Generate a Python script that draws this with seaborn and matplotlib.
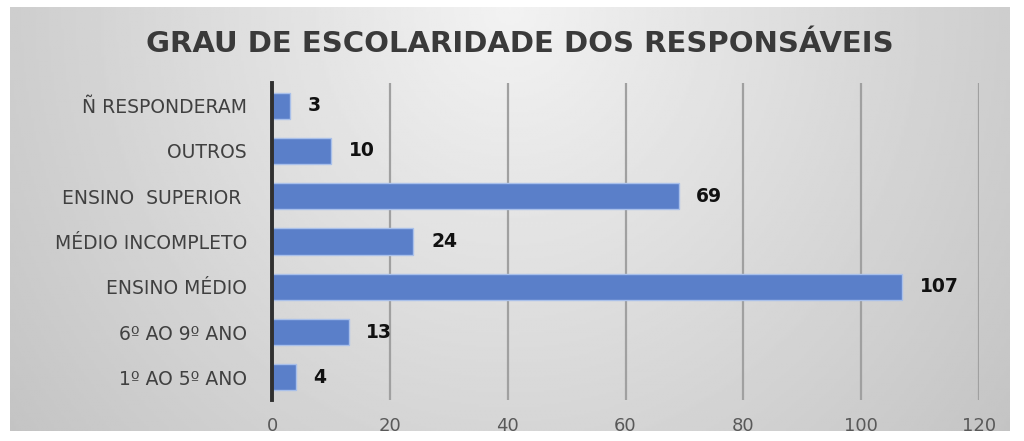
import numpy as np
import pandas as pd
import matplotlib.pyplot as plt
import seaborn as sns

categorias = ["Ñ RESPONDERAM", "OUTROS", "ENSINO  SUPERIOR ", "MÉDIO INCOMPLETO",
              "ENSINO MÉDIO", "6º AO 9º ANO", "1º AO 5º ANO"]
valores = [3, 10, 69, 24, 107, 13, 4]
x_ticks = [0, 20, 40, 60, 80, 100, 120]

df = pd.DataFrame({"categoria": categorias, "valor": valores})

sns.set_theme(style="white")
plt.rcParams["font.family"] = ["DejaVu Sans"]

fig = plt.figure(figsize=(10.24, 4.41), dpi=100)
fig.patch.set_facecolor("white")

# gray gradient panel behind the chart
bg = fig.add_axes([10 / 1024, 10 / 441, 1000 / 1024, 424 / 441], zorder=-1)
gx, gy = np.meshgrid(np.linspace(-1, 1, 400), np.linspace(0, 1, 200))
dist = np.sqrt((gx * 0.9) ** 2 + (gy * 0.7) ** 2)
shade = 0.95 - 0.16 * np.clip(dist, 0, 1.2)
bg.imshow(shade, cmap="gray", vmin=0, vmax=1, aspect="auto", origin="upper",
          extent=[0, 1, 0, 1])
bg.set_axis_off()

ax = fig.add_axes([272 / 1024, 41 / 441, 707 / 1024, 317 / 441])
ax.set_facecolor("none")

sns.barplot(data=df, x="valor", y="categoria", orient="h", order=categorias,
            color="#5a7fc9", saturation=1, width=0.58, edgecolor="#a9c0ea",
            linewidth=1, ax=ax, zorder=3)

ax.set_xlim(0, 120)
ax.set_xticks(x_ticks)
ax.xaxis.grid(True, color="#a0a0a0", linewidth=1.6, zorder=0)
ax.set_axisbelow(True)
for s in ["top", "right", "bottom"]:
    ax.spines[s].set_visible(False)
ax.spines["left"].set_color("#303030")
ax.spines["left"].set_linewidth(2.8)
ax.spines["left"].set_zorder(5)
ax.tick_params(axis="both", length=0)
ax.tick_params(axis="y", pad=18, labelsize=13.5, labelcolor="#404040")
ax.tick_params(axis="x", pad=12, labelsize=13, labelcolor="#595959")
ax.set_xlabel("")
ax.set_ylabel("")

for i, v in enumerate(valores):
    ax.text(v + 3, i, str(v), va="center", ha="left", fontsize=13.5,
            fontweight="bold", color="#111111")

fig.text(0.508, 0.90, "GRAU DE ESCOLARIDADE DOS RESPONSÁVEIS", ha="center",
         va="center", fontsize=21, fontweight="bold", color="#3a3a3a")

fig.savefig("out.png", dpi=100)
